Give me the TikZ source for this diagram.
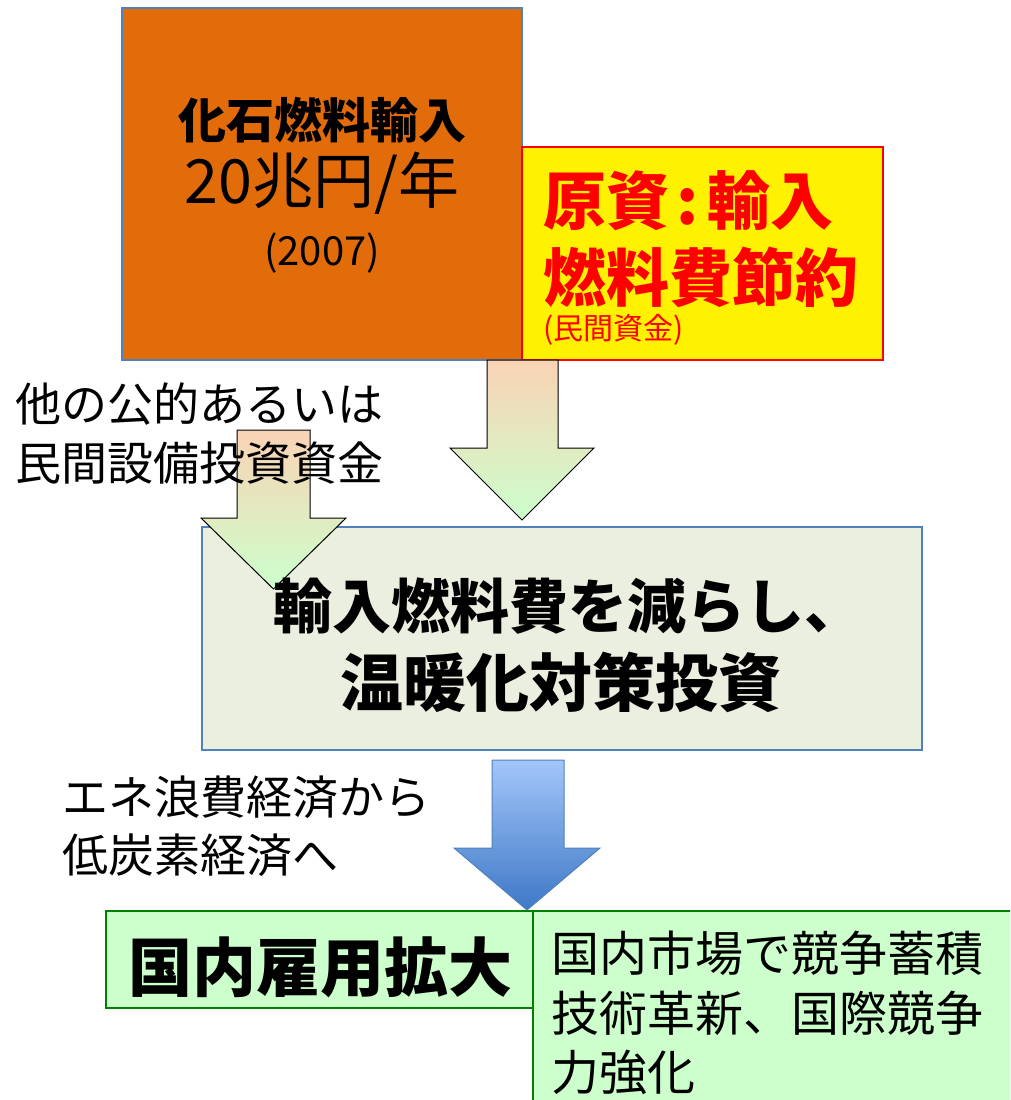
\documentclass[tikz,border=0pt]{standalone}
\usepackage{fontspec}
\setmainfont{Noto Sans CJK JP}
\definecolor{orangefill}{HTML}{E36C0A}
\definecolor{boxblue}{HTML}{4F81BD}
\definecolor{peachtop}{HTML}{F9D3B5}
\definecolor{mintbot}{HTML}{CCFFCC}
\definecolor{midfill}{HTML}{EBEFDF}
\definecolor{bluetop}{HTML}{A3C6FA}
\definecolor{bluebot}{HTML}{3E78C6}
\definecolor{greenfill}{HTML}{CCFFCC}
\definecolor{greenline}{HTML}{008000}
\newcommand{\fs}[1]{\fontsize{#1}{#1}\selectfont}
\begin{document}
\begin{tikzpicture}[x=1pt,y=-1pt,
  panel/.style={draw, line width=1.5pt, inner sep=0pt, outer sep=0pt, anchor=north west},
  label/.style={inner sep=0pt, outer sep=0pt},
  peacharrow/.style={draw=black, line width=1pt, top color=peachtop, bottom color=mintbot},
  bluearrow/.style={draw=boxblue, line width=1pt, top color=bluetop, bottom color=bluebot}]
\useasboundingbox (0,0) rectangle (1010,1100);
\clip (0,0) rectangle (1010,1100);

% top boxes
\node[panel, draw=boxblue, fill=orangefill, minimum width=400pt, minimum height=352pt] (fossil) at (122,8) {};
\node[panel, draw=red, fill=yellow, minimum width=361pt, minimum height=213pt] (saving) at (522,147) {};

% right arrow from the boxes
\path[peacharrow] (487,360) -- (558,360) -- (558,448) -- (594,448) -- (522,520) -- (450,448) -- (487,448) -- cycle;

% middle box
\node[panel, draw=boxblue, fill=midfill, minimum width=720pt, minimum height=223pt] (invest) at (202,527) {};

% left arrow
\path[peacharrow] (237,430) -- (310,430) -- (310,518) -- (346,518) -- (273.5,589) -- (201,518) -- (237,518) -- cycle;

% blue arrow
\path[bluearrow] (492,760) -- (564,760) -- (564,848) -- (600,848) -- (527,910) -- (454,848) -- (492,848) -- cycle;

% bottom boxes
\node[panel, draw=greenline, fill=greenfill, minimum width=520pt, minimum height=220pt] (market) at (533,911) {};
\node[panel, draw=greenline, fill=greenfill, minimum width=427pt, minimum height=97pt] (jobs) at (106,911) {};

% texts
\node[label, font=\fs{48}\bfseries] (t1) at (322,120) {化石燃料輸入};
\node[label, font=\fs{61}] (t2) at (322,183) {20兆円/年};
\node[label, font=\fs{40}] (t3) at (322,253) {(2007)};

\node[label, font=\fs{63}\bfseries, text=red, anchor=west] (s1) at (543,201) {原資\hspace{8pt}:\hspace{8pt}輸入};
\node[label, font=\fs{63}\bfseries, text=red, anchor=west] (s2) at (543,277) {燃料費節約};
\node[label, font=\fs{30}, text=red, anchor=west] (s3) at (543,330) {(民間資金)};

\node[label, font=\fs{46}, anchor=west] (o1) at (16,404) {他の公的あるいは};
\node[label, font=\fs{46}, anchor=west] (o2) at (16,463) {民間設備投資資金};

\node[label, font=\fs{59}\bfseries, anchor=west] (m1) at (273,606) {輸入燃料費を減らし、};
\node[label, font=\fs{63}\bfseries] (m2) at (561,682) {温暖化対策投資};

\node[label, font=\fs{46}, anchor=west] (e1) at (62,797) {エネ浪費経済から};
\node[label, font=\fs{46}, anchor=west] (e2) at (62,855) {低炭素経済へ};

\node[label, font=\fs{64}\bfseries] (j1) at (320,967) {国内雇用拡大};

\node[label, font=\fs{48}, anchor=west] (k1) at (551,953) {国内市場で競争蓄積};
\node[label, font=\fs{48}, anchor=west] (k2) at (551,1013) {技術革新、国際競争};
\node[label, font=\fs{48}, anchor=west] (k3) at (551,1072) {力強化};
\end{tikzpicture}
\end{document}
